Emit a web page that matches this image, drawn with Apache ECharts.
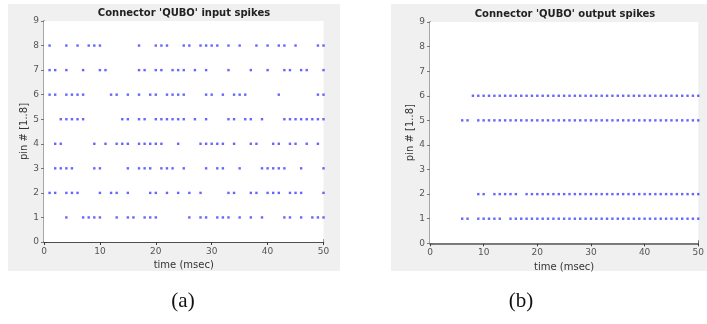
<!DOCTYPE html>
<html>
<head>
<meta charset="utf-8">
<script src="https://cdn.jsdelivr.net/npm/echarts@6/dist/echarts.min.js"></script>
<style>
  html, body { margin: 0; padding: 0; background: #ffffff; }
  #chart { width: 707px; height: 324px; }
</style>
</head>
<body>
<div id="chart"></div>
<script>
// Axis ranges and tick spacing
const timeRange = [0, 50];
const timeStep = 10;
const pinRange = [0, 9];
const pinStep = 1;

// Spike times (msec) of the connector's input pins
const inputPin1 = [4, 7, 8, 9, 10, 13, 15, 16, 18, 19, 20, 26, 28, 29, 31, 32, 33, 35, 37, 39, 43, 44, 46, 48, 49, 50];
const inputPin2 = [1, 2, 4, 5, 6, 10, 12, 13, 15, 19, 20, 22, 24, 26, 28, 33, 34, 37, 38, 40, 41, 42, 44, 45, 46, 50];
const inputPin3 = [2, 3, 4, 5, 9, 10, 15, 17, 18, 19, 21, 22, 23, 25, 29, 31, 32, 35, 39, 40, 41, 42, 43, 46, 50];
const inputPin4 = [2, 3, 9, 11, 13, 14, 15, 17, 18, 19, 20, 21, 24, 28, 29, 30, 31, 32, 34, 37, 38, 41, 42, 44, 45, 47, 49];
const inputPin5 = [3, 4, 5, 6, 7, 14, 15, 17, 18, 20, 21, 22, 23, 24, 25, 27, 29, 33, 34, 36, 37, 39, 43, 44, 45, 46, 47, 48, 49, 50];
const inputPin6 = [1, 2, 4, 5, 6, 7, 12, 13, 15, 17, 19, 20, 22, 23, 24, 25, 29, 30, 32, 34, 35, 36, 42, 49, 50];
const inputPin7 = [1, 2, 4, 7, 10, 11, 17, 18, 20, 21, 23, 24, 25, 27, 29, 33, 37, 40, 43, 44, 46, 47, 50];
const inputPin8 = [1, 4, 6, 8, 9, 10, 17, 20, 21, 22, 25, 26, 28, 29, 30, 31, 33, 35, 38, 40, 42, 43, 45, 49, 50];

// Spike times (msec) of the connector's output pins
const outputPin1 = [6, 7, 9, 10, 11, 12, 13, 15, 16, 17, 18, 19, 20, 21, 22, 23, 24, 25, 26, 27, 28, 29, 30, 31, 32, 33, 34, 35, 36, 37, 38, 39, 40, 41, 42, 43, 44, 45, 46, 47, 48, 49, 50];
const outputPin2 = [9, 10, 12, 13, 14, 15, 16, 18, 19, 20, 21, 22, 23, 24, 25, 26, 27, 28, 29, 30, 31, 32, 33, 34, 35, 36, 37, 38, 39, 40, 41, 42, 43, 44, 45, 46, 47, 48, 49, 50];
const outputPin5 = [6, 7, 9, 10, 11, 12, 13, 14, 15, 16, 17, 18, 19, 20, 21, 22, 23, 24, 25, 26, 27, 28, 29, 30, 31, 32, 33, 34, 35, 36, 37, 38, 39, 40, 41, 42, 43, 44, 45, 46, 47, 48, 49, 50];
const outputPin6 = [8, 9, 10, 11, 12, 13, 14, 15, 16, 17, 18, 19, 20, 21, 22, 23, 24, 25, 26, 27, 28, 29, 30, 31, 32, 33, 34, 35, 36, 37, 38, 39, 40, 41, 42, 43, 44, 45, 46, 47, 48, 49, 50];

const inputRows = [[1, inputPin1], [2, inputPin2], [3, inputPin3], [4, inputPin4],
                   [5, inputPin5], [6, inputPin6], [7, inputPin7], [8, inputPin8]];
const outputRows = [[1, outputPin1], [2, outputPin2], [5, outputPin5], [6, outputPin6]];

function toPoints(rows) {
  const pts = [];
  rows.forEach(([pin, times]) => times.forEach(t => pts.push([t, pin])));
  return pts;
}

const FONT = 'DejaVu Sans';
const AXIS_DARK = '#3a3a3a';
const LABEL_GRAY = '#555555';
const SPIKE_BLUE = '#3f3fff';

const grids = [
  { left: 44, top: 21, width: 279.5, height: 221 },
  { left: 430, top: 22, width: 271, height: 221.3 }
];

function bottomAxis(gi) {
  return {
    gridIndex: gi, type: 'value', position: 'bottom',
    min: timeRange[0], max: timeRange[1], interval: timeStep,
    name: 'time (msec)', nameLocation: 'middle', nameGap: 17,
    nameTextStyle: { fontFamily: FONT, fontSize: 10, color: '#333' },
    axisLine: { show: true, lineStyle: { color: AXIS_DARK, width: 1 } },
    axisTick: { show: true, inside: true, length: 3, lineStyle: { color: AXIS_DARK } },
    axisLabel: { fontFamily: FONT, fontSize: 9, color: LABEL_GRAY, margin: 5 },
    splitLine: { show: false }
  };
}
function topAxis(gi) {
  return {
    gridIndex: gi, type: 'value', position: 'top',
    min: timeRange[0], max: timeRange[1], interval: timeStep,
    axisLine: { show: true, lineStyle: { color: '#555', width: 1.5 } },
    axisTick: { show: true, inside: true, length: 3, lineStyle: { color: AXIS_DARK } },
    axisLabel: { show: false }, splitLine: { show: false }
  };
}
function leftAxis(gi) {
  return {
    gridIndex: gi, type: 'value', position: 'left',
    min: pinRange[0], max: pinRange[1], interval: pinStep,
    name: 'pin # [1..8]', nameLocation: 'middle', nameGap: 12, nameRotate: 90,
    nameTextStyle: { fontFamily: FONT, fontSize: 10, color: '#333' },
    axisLine: { show: true, lineStyle: { color: AXIS_DARK, width: 1 } },
    axisTick: { show: true, inside: true, length: 3, lineStyle: { color: AXIS_DARK } },
    axisLabel: { fontFamily: FONT, fontSize: 9, color: LABEL_GRAY, margin: 5 },
    splitLine: { show: false }
  };
}
function rightAxis(gi) {
  return {
    gridIndex: gi, type: 'value', position: 'right',
    min: pinRange[0], max: pinRange[1], interval: pinStep,
    axisLine: { show: true, lineStyle: { color: '#a6a6a6', width: 2 } },
    axisTick: { show: true, inside: true, length: 3, lineStyle: { color: '#777' } },
    axisLabel: { show: false }, splitLine: { show: false }
  };
}

const chart = echarts.init(document.getElementById('chart'), null, { renderer: 'canvas' });

chart.setOption({
  animation: false,
  backgroundColor: '#ffffff',
  grid: grids.map(g => Object.assign({ show: true, backgroundColor: '#ffffff', borderWidth: 0, z: 1 }, g)),
  xAxis: [bottomAxis(0), topAxis(0), bottomAxis(1), topAxis(1)],
  yAxis: [leftAxis(0), rightAxis(0), leftAxis(1), rightAxis(1)],
  graphic: [
    { type: 'rect', z: -10, shape: { x: 8, y: 4, width: 332, height: 267 }, style: { fill: '#f0f0f0' } },
    { type: 'rect', z: -10, shape: { x: 391, y: 4, width: 316, height: 267 }, style: { fill: '#f0f0f0' } },
    { type: 'text', x: 184, y: 13, style: { text: "Connector 'QUBO' input spikes", fontFamily: FONT, fontWeight: 'bold', fontSize: 10, fill: '#222', align: 'center', verticalAlign: 'middle' } },
    { type: 'text', x: 565, y: 14, style: { text: "Connector 'QUBO' output spikes", fontFamily: FONT, fontWeight: 'bold', fontSize: 10, fill: '#222', align: 'center', verticalAlign: 'middle' } },
    { type: 'text', x: 183, y: 301, style: { text: '(a)', fontFamily: 'Liberation Serif', fontSize: 21, fill: '#111', align: 'center', verticalAlign: 'middle' } },
    { type: 'text', x: 521, y: 301, style: { text: '(b)', fontFamily: 'Liberation Serif', fontSize: 21, fill: '#111', align: 'center', verticalAlign: 'middle' } }
  ],
  series: [
    {
      type: 'scatter', xAxisIndex: 0, yAxisIndex: 0,
      symbol: 'rect', symbolSize: 2.4, z: 5,
      itemStyle: { color: SPIKE_BLUE },
      data: toPoints(inputRows)
    },
    {
      type: 'scatter', xAxisIndex: 2, yAxisIndex: 2,
      symbol: 'rect', symbolSize: 2.4, z: 5,
      itemStyle: { color: SPIKE_BLUE },
      data: toPoints(outputRows)
    }
  ]
});
</script>
</body>
</html>
